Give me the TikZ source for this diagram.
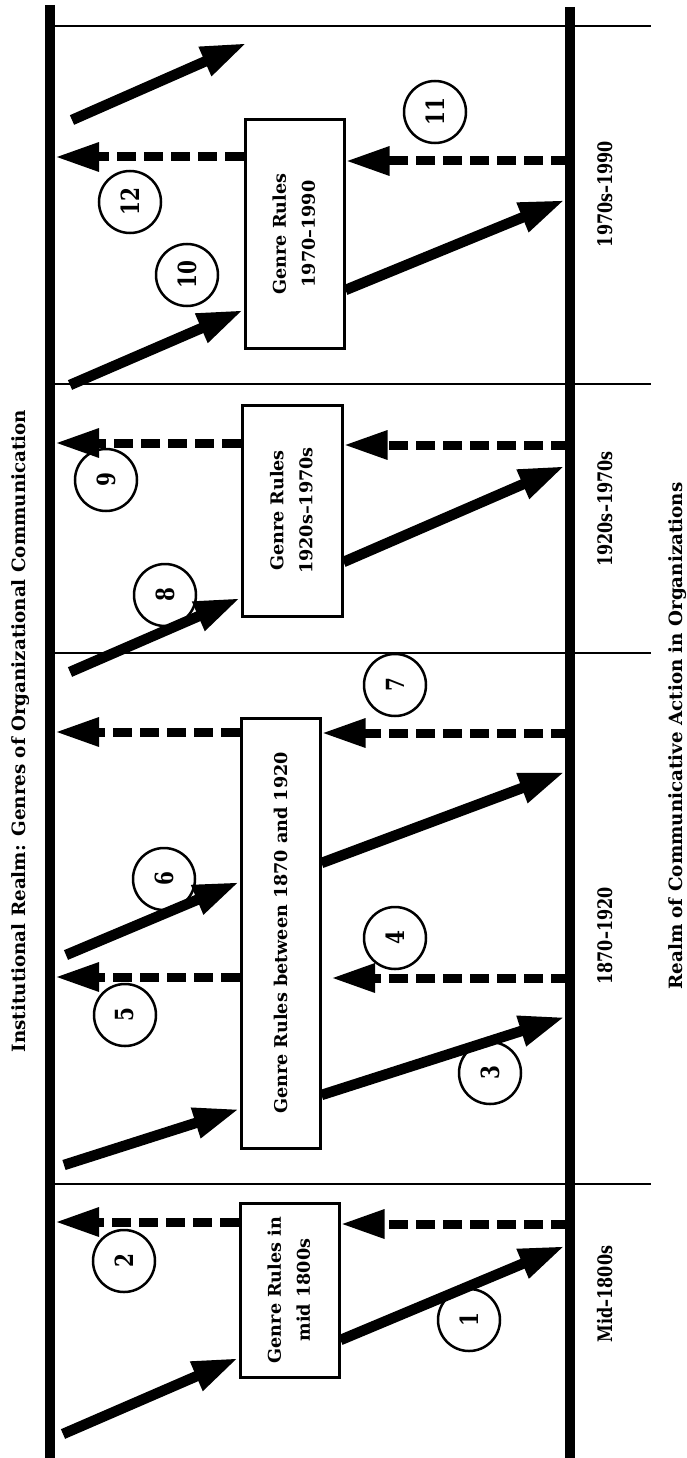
\documentclass[tikz,border=0pt]{standalone}
\usepackage{fontspec}
\setmainfont{DejaVu Serif}
\newfontfamily\narrowserif{DejaVu Serif}[FakeStretch=0.8]
\usetikzlibrary{arrows.meta}
\begin{document}
\begin{tikzpicture}[x=1pt,y=-1pt,
  vline/.style={line width=10pt},
  hline/.style={line width=2pt},
  genrebox/.style={draw,line width=3pt,inner sep=0pt,font=\bfseries\fontsize{17.6}{29}\selectfont},
  bigarrow/.style={line width=10.5pt,-{Triangle[length=46pt,width=29pt]}},
  dasharrow/.style={line width=9pt,dash pattern=on 19pt off 8pt,-{Triangle[length=44pt,width=27pt]}},
  numcirc/.style={draw,circle,line width=2.5pt,minimum size=62pt,inner sep=0pt,font=\narrowserif\bfseries\fontsize{25}{25}\selectfont},
  period/.style={rotate=90,anchor=base,inner sep=0pt,font=\narrowserif\bfseries\fontsize{20}{22}\selectfont},
  realm/.style={rotate=90,anchor=base,inner sep=0pt,font=\bfseries\fontsize{18.3}{20}\selectfont},
]
\useasboundingbox (0,0) rectangle (687,1458);
\fill[white] (0,0) rectangle (687,1458);

% main lines
\coordinate (Lt) at (50,5);
\coordinate (Lb) at (50,1458);
\coordinate (Rt) at (570,7);
\coordinate (Rb) at (570,1458);
\coordinate (Le) at (55,0);
\coordinate (Re) at (565,0);
\coordinate (Rc) at (570,0);
\draw[vline] (Lt) -- (Lb);
\draw[vline] (Rt) -- (Rb);

% separators
\coordinate (h1a) at (50,26);   \coordinate (h1b) at (651,26);
\coordinate (h2a) at (50,384);  \coordinate (h2b) at (651,384);
\coordinate (h3a) at (50,653);  \coordinate (h3b) at (651,653);
\coordinate (h4a) at (50,1184); \coordinate (h4b) at (651,1184);
\draw[hline] (h1a) -- (h1b);
\draw[hline] (h2a) -- (h2b);
\draw[hline] (h3a) -- (h3b);
\draw[hline] (h4a) -- (h4b);

% titles
\node[realm] (title) at (25,731) {Institutional Realm: Genres of Organizational Communication};
\node[realm] (realmb) at (682,736) {Realm of Communicative Action in Organizations};

% period labels
\node[period] (p4) at (612,194) {1970s–1990};
\node[period] (p3) at (612,509) {1920s–1970s};
\node[period] (p2) at (612,936) {1870–1920};
\node[period] (p1) at (612,1294) {Mid–1800s};

% boxes
\node[genrebox,minimum width=99pt,minimum height=174pt] (b1) at (289.5,1290)
  {\rotatebox{90}{\begin{tabular}{@{}c@{}}Genre Rules in\\mid 1800s\end{tabular}}};
\node[genrebox,minimum width=79pt,minimum height=430pt] (b2) at (280.5,933)
  {\rotatebox{90}{Genre Rules between 1870 and 1920}};
\node[genrebox,minimum width=100pt,minimum height=211pt] (b3) at (292,510.5)
  {\rotatebox{90}{\begin{tabular}{@{}c@{}}Genre Rules\\1920s–1970s\end{tabular}}};
\node[genrebox,minimum width=99pt,minimum height=228pt] (b4) at (294.5,234)
  {\rotatebox{90}{\begin{tabular}{@{}c@{}}Genre Rules\\1970–1990\end{tabular}}};

% numbered circles
\node[numcirc] (c1) at (469,1320) {\rotatebox{90}{1}};
\node[numcirc] (c2) at (124,1261) {\rotatebox{90}{2}};
\node[numcirc] (c3) at (490,1073) {\rotatebox{90}{3}};
\node[numcirc] (c4) at (395,938) {\rotatebox{90}{4}};
\node[numcirc] (c5) at (125,1015) {\rotatebox{90}{5}};
\node[numcirc] (c6) at (164,879) {\rotatebox{90}{6}};
\node[numcirc] (c7) at (395,685) {\rotatebox{90}{7}};
\node[numcirc] (c8) at (165,595) {\rotatebox{90}{8}};
\node[numcirc] (c9) at (106,480) {\rotatebox{90}{9}};
\node[numcirc] (c10) at (187,275) {\rotatebox{90}{10}};
\node[numcirc] (c11) at (435,112) {\rotatebox{90}{11}};
\node[numcirc] (c12) at (130,202) {\rotatebox{90}{12}};

% free ends of the solid arrows
\coordinate (s0) at (63,1434);
\coordinate (s2) at (64,1165);
\coordinate (s6) at (66,955);
\coordinate (s8) at (70,672);
\coordinate (s10) at (70,385);
\coordinate (sf) at (72,120);
\coordinate (tf) at (247,43);
\coordinate (t4) at (331,978);

% mid-1800s
\draw[bigarrow] (s0) -- (b1.west |- 0,1358);
\draw[bigarrow] (b1.east |- 0,1340) -- (Re |- 0,1246);
\draw[dasharrow] (Rc |- 0,1224) -- (b1.east |- 0,1224);
\draw[dasharrow] (b1.west |- 0,1222) -- (Le |- 0,1222);

% 1870-1920
\draw[bigarrow] (s2) -- (b2.west |- 0,1109);
\draw[bigarrow] (b2.east |- 0,1095) -- (Re |- 0,1017);
\draw[dasharrow] (Rc |- 0,978) -- (t4);
\draw[dasharrow] (b2.west |- 0,977) -- (Le |- 0,977);
\draw[bigarrow] (s6) -- (b2.west |- 0,882);
\draw[bigarrow] (b2.east |- 0,863) -- (Re |- 0,772);
\draw[dasharrow] (Rc |- 0,733) -- (b2.east |- 0,733);
\draw[dasharrow] (b2.west |- 0,732) -- (Le |- 0,732);

% 1920s-1970s
\draw[bigarrow] (s8) -- (b3.west |- 0,598);
\draw[bigarrow] (b3.east |- 0,562) -- (Re |- 0,466);
\draw[dasharrow] (Rc |- 0,445) -- (b3.east |- 0,445);
\draw[dasharrow] (b3.west |- 0,443) -- (Le |- 0,443);

% 1970s-1990
\draw[bigarrow] (s10) -- (b4.west |- 0,310);
\draw[bigarrow] (b4.east |- 0,290) -- (Re |- 0,200);
\draw[dasharrow] (Rc |- 0,161) -- (b4.east |- 0,161);
\draw[dasharrow] (b4.west |- 0,157) -- (Le |- 0,157);
\draw[bigarrow] (sf) -- (tf);
\end{tikzpicture}
\end{document}
